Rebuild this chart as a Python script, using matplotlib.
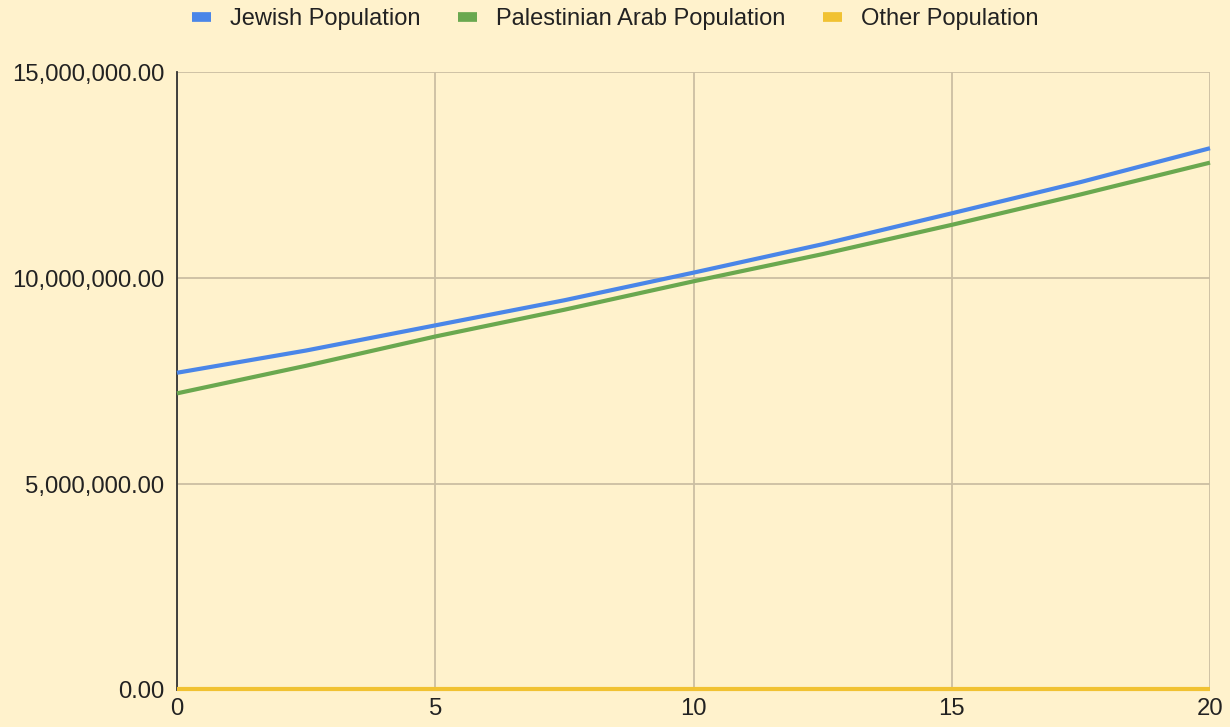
import matplotlib
matplotlib.use("Agg")
import matplotlib.pyplot as plt
from matplotlib.lines import Line2D
from matplotlib.ticker import FuncFormatter

years = [0, 2.5, 5, 7.5, 10, 12.5, 15, 17.5, 20]
jewish = [7700000, 8240000, 8850000, 9460000, 10130000, 10820000, 11570000, 12330000, 13150000]
palestinian = [7200000, 7870000, 8580000, 9230000, 9920000, 10580000, 11290000, 12030000, 12800000]
other = [20000, 20000, 20000, 20000, 20000, 20000, 20000, 20000, 20000]

series_names = ["Jewish Population", "Palestinian Arab Population", "Other Population"]
colors = ["#4a86e8", "#6aa84f", "#f1c232"]
x_ticks = [0, 5, 10, 15, 20]
y_ticks = [0, 5000000, 10000000, 15000000]

plt.rcParams['font.family'] = ['Liberation Sans', 'DejaVu Sans']
bg = "#fff2cc"

fig = plt.figure(figsize=(12.3, 7.27), dpi=100, facecolor=bg)
ax = fig.add_axes([177/1230, 37/727, (1210-177)/1230, (690-72)/727])
ax.set_facecolor(bg)

for vals, c in zip([jewish, palestinian, other], colors):
    ax.plot(years, vals, color=c, linewidth=3, solid_capstyle='butt', zorder=3, clip_on=False)

ax.set_xlim(0, 20)
ax.set_ylim(0, 15000000)
ax.set_xticks(x_ticks)
ax.set_yticks(y_ticks)
ax.yaxis.set_major_formatter(FuncFormatter(lambda v, p: f"{v:,.2f}"))
ax.grid(True, color="#cbbfa3", linewidth=1.3, zorder=0)
ax.set_axisbelow(True)
for s in ["top", "right", "bottom"]:
    ax.spines[s].set_visible(False)
ax.spines["left"].set_color("#333333")
ax.spines["left"].set_linewidth(1.3)
ax.tick_params(axis='both', length=0, labelsize=17.2, labelcolor="#222222")
ax.tick_params(axis='y', pad=9)
ax.tick_params(axis='x', pad=6)

handles = [Line2D([0], [0], color=c, linewidth=7, solid_capstyle='butt') for c in colors]
fig.legend(handles, series_names, loc='upper center', bbox_to_anchor=(0.5, 1.018), ncol=3,
           frameon=False, fontsize=17, handlelength=0.8, handletextpad=0.8, columnspacing=1.6,
           labelcolor="#222222")

fig.savefig("out.png", dpi=100, facecolor=bg)
